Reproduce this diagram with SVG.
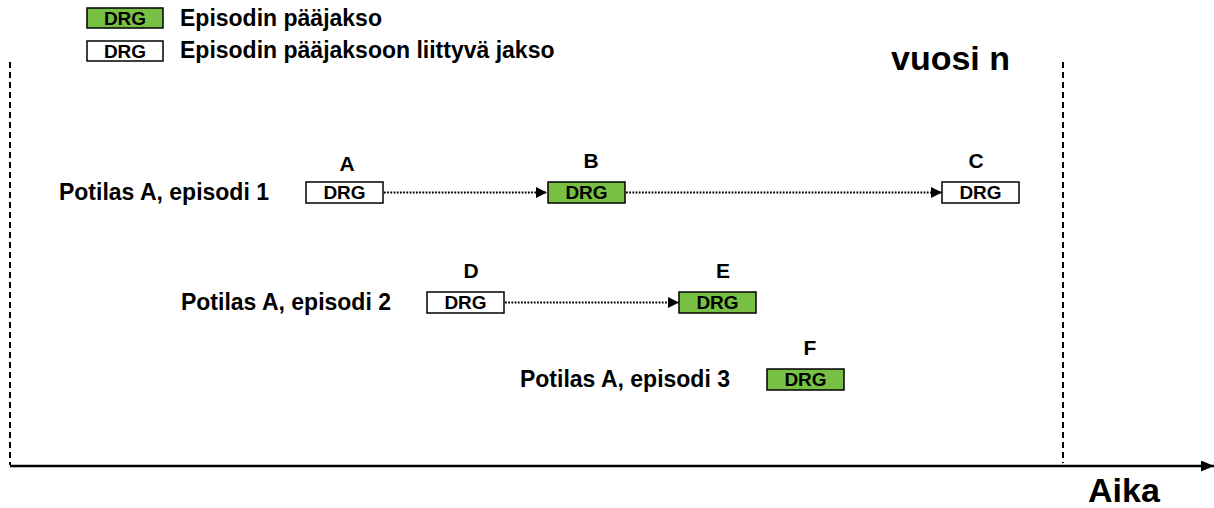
<svg xmlns="http://www.w3.org/2000/svg" width="1214" height="508" viewBox="0 0 1214 508">
<defs>
<style>
text{font-family:"Liberation Sans",Arial,sans-serif;font-weight:bold;fill:#000}
.box{stroke:#000;stroke-width:1.5}
.main{fill:#78C043}
.rel{fill:#fff}
.drg{font-size:19px;text-anchor:middle}
.lbl{font-size:21px;text-anchor:middle}
.pat{font-size:23px;text-anchor:end}
.leg{font-size:23px}
.big{font-size:34px}
.dot{stroke:#000;stroke-width:1.8;stroke-dasharray:1.8 1.4;fill:none}
.vdash{stroke:#000;stroke-width:2;stroke-dasharray:6 4;fill:none}
</style>
<marker id="ah" viewBox="0 0 11 11" refX="11" refY="5.5" markerWidth="11" markerHeight="11" markerUnits="userSpaceOnUse" orient="auto">
<path d="M0,0 L11,5.5 L0,11 Z" fill="#000"/>
</marker>
<marker id="axh" viewBox="0 0 13 11" refX="13" refY="5.5" markerWidth="13" markerHeight="11" markerUnits="userSpaceOnUse" orient="auto">
<path d="M0,0 L13,5.5 L0,11 Z" fill="#000"/>
</marker>
</defs>
<rect width="1214" height="508" fill="#fff"/>

<g id="legend">
<rect class="box main" x="87" y="8" width="76" height="20"/>
<text class="drg" x="125" y="25">DRG</text>
<text class="leg" x="180" y="26">Episodin pääjakso</text>
<rect class="box rel" x="87" y="41" width="76" height="20"/>
<text class="drg" x="125" y="58">DRG</text>
<text class="leg" x="180" y="58">Episodin pääjaksoon liittyvä jakso</text>
</g>

<g id="frame">
<line class="vdash" x1="10" y1="62" x2="10" y2="465"/>
<line class="vdash" x1="1063" y1="62" x2="1063" y2="463"/>
<line x1="10" y1="466" x2="1214" y2="466" stroke="#000" stroke-width="2.5" marker-end="url(#axh)"/>
<text class="big" x="891" y="70">vuosi n</text>
<text class="big" x="1088" y="502">Aika</text>
</g>

<g id="connectors">
<line class="dot" x1="384" y1="192.5" x2="547" y2="192.5" marker-end="url(#ah)"/>
<line class="dot" x1="626" y1="192.5" x2="942" y2="192.5" marker-end="url(#ah)"/>
<line class="dot" x1="505" y1="302.5" x2="679" y2="302.5" marker-end="url(#ah)"/>
</g>

<g id="row1">
<text class="pat" x="269" y="200">Potilas A, episodi 1</text>
</g>
<g id="nodeA">
<text class="lbl" x="347" y="171">A</text>
<rect class="box rel" x="306" y="182" width="77" height="21"/>
<text class="drg" x="344.5" y="199">DRG</text>
</g>
<g id="nodeB">
<text class="lbl" x="591" y="168">B</text>
<rect class="box main" x="548" y="182" width="77" height="21"/>
<text class="drg" x="586.5" y="199">DRG</text>
</g>
<g id="nodeC">
<text class="lbl" x="976" y="168">C</text>
<rect class="box rel" x="942" y="182" width="77" height="21"/>
<text class="drg" x="980.5" y="199">DRG</text>
</g>

<g id="row2">
<text class="pat" x="391" y="310">Potilas A, episodi 2</text>
</g>
<g id="nodeD">
<text class="lbl" x="471" y="278">D</text>
<rect class="box rel" x="427" y="292" width="77" height="21"/>
<text class="drg" x="465.5" y="309">DRG</text>
</g>
<g id="nodeE">
<text class="lbl" x="723" y="278">E</text>
<rect class="box main" x="679" y="292" width="77" height="21"/>
<text class="drg" x="717.5" y="309">DRG</text>
</g>

<g id="row3">
<text class="pat" x="730" y="387">Potilas A, episodi 3</text>
</g>
<g id="nodeF">
<text class="lbl" x="810" y="355">F</text>
<rect class="box main" x="767" y="369" width="77" height="21"/>
<text class="drg" x="805.5" y="386">DRG</text>
</g>
</svg>
